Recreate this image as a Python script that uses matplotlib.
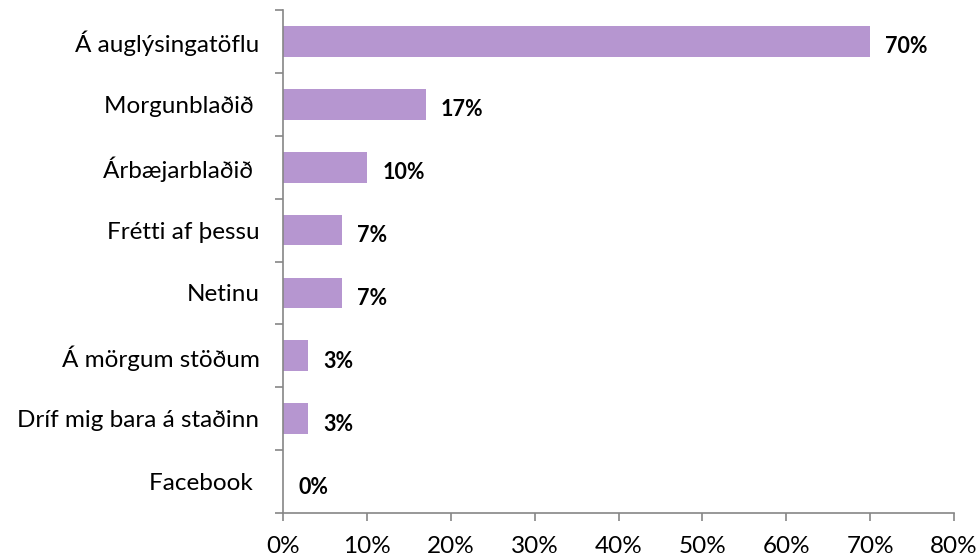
import matplotlib
matplotlib.use("Agg")
import matplotlib.pyplot as plt
from matplotlib.ticker import FuncFormatter, MultipleLocator

categories = ["Á auglýsingatöflu", "Morgunblaðið ", "Árbæjarblaðið ", "Frétti af þessu",
              "Netinu", "Á mörgum stöðum", "Dríf mig bara á staðinn", "Facebook "]
values = [70, 17, 10, 7, 7, 3, 3, 0]
value_labels = ["70%", "17%", "10%", "7%", "7%", "3%", "3%", "0%"]

plt.rcParams['font.family'] = ['Lato', 'DejaVu Sans']

fig = plt.figure(figsize=(9.8, 5.6), dpi=100)
ax = fig.add_axes([283/980, 1-513/560, (954-283)/980, 503/560])

n = len(categories)
ypos = list(range(n))
ax.barh(ypos, values, height=0.49, color="#b696d0")
ax.set_ylim(n - 0.5, -0.5)
ax.set_xlim(0, 80)

ax.xaxis.set_major_locator(MultipleLocator(10))
ax.xaxis.set_major_formatter(FuncFormatter(lambda v, p: f"{int(round(v))}%"))

ax.set_yticks(ypos)
ax.set_yticklabels(categories)
ax.set_yticks([i - 0.5 for i in range(n + 1)], minor=True)
ax.tick_params(axis='y', which='major', length=0, pad=17, labelsize=17.5)
ax.tick_params(axis='y', which='minor', length=5.8, width=1.2, color="#868686", direction='out')
ax.tick_params(axis='x', which='major', length=5.8, width=1.2, color="#868686", direction='out',
               labelsize=17.5, pad=11)

for s in ["top", "right"]:
    ax.spines[s].set_visible(False)
for s in ["left", "bottom"]:
    ax.spines[s].set_color("#868686")
    ax.spines[s].set_linewidth(1.2)

for y, v, lab in zip(ypos, values, value_labels):
    ax.annotate(lab, xy=(v, y), xytext=(11, -4), textcoords='offset points',
                ha='left', va='center', fontsize=15.5, fontweight='bold', color='black')

fig.savefig("out.png", dpi=100)
